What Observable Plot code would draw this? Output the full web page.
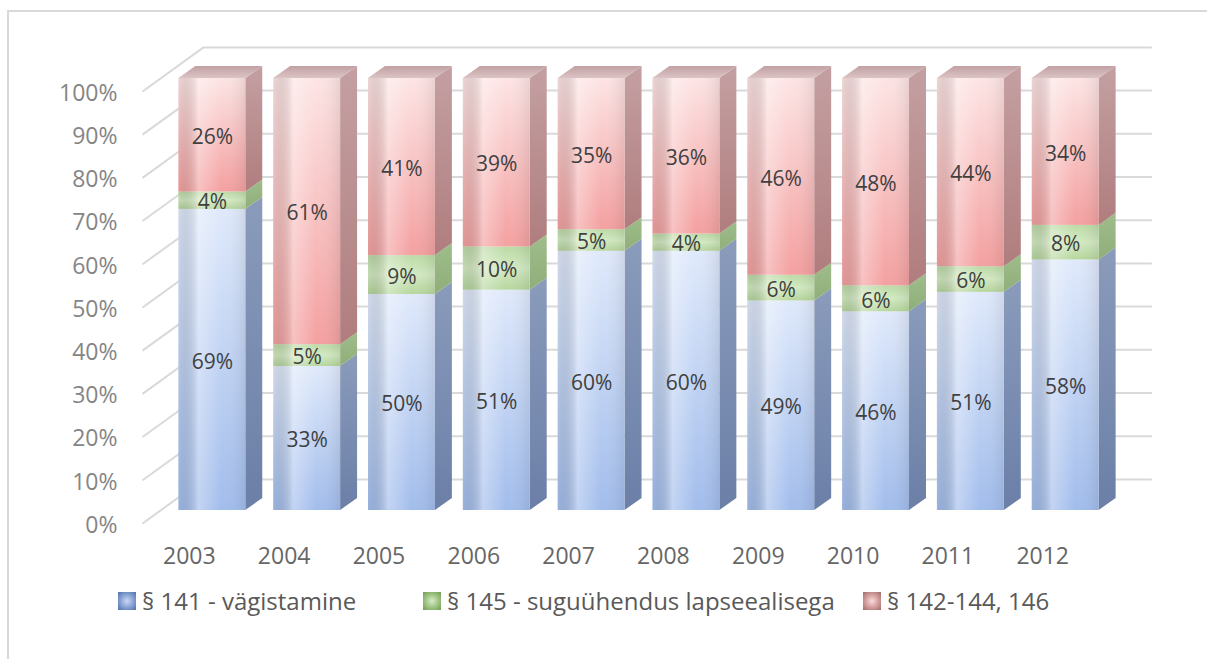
<!DOCTYPE html>
<html>
<head>
<meta charset="utf-8">
<script src="https://cdn.jsdelivr.net/npm/d3@7"></script>
<script src="https://cdn.jsdelivr.net/npm/@observablehq/plot@0.6"></script>
<style>
  html, body { margin: 0; padding: 0; background: #fff; width: 1207px; height: 659px; overflow: hidden; }
  body { font-family: "Open Sans", sans-serif; position: relative; }
  #frame { position: absolute; left: 7px; top: 10px; width: 1400px; height: 800px;
           border-left: 2px solid #d9d9d9; border-top: 2px solid #d9d9d9; }
  #chart { position: absolute; left: 0; top: 0; }
  #legend { position: absolute; left: 118px; top: 584px; display: flex; align-items: center;
            font-size: 24px; color: #595959; white-space: nowrap; }
  .item { display: flex; align-items: center; }
  .sw { width: 18px; height: 18px; margin-right: 6px; box-sizing: border-box; }
</style>
</head>
<body>
<div id="frame"></div>
<div id="chart"></div>
<div id="legend"></div>
<script>
// ---- data ----
const years = [2003, 2004, 2005, 2006, 2007, 2008, 2009, 2010, 2011, 2012];
const seriesNames = ["§ 141 - vägistamine", "§ 145 - suguühendus lapseealisega", "§ 142-144, 146"];
const s141 = [69, 33, 50, 51, 60, 60, 49, 46, 51, 58];
const s145 = [4, 5, 9, 10, 5, 4, 6, 6, 6, 8];
const s142 = [26, 61, 41, 39, 35, 36, 46, 48, 44, 34];
const yTicks = [0, 10, 20, 30, 40, 50, 60, 70, 80, 90, 100];

// ---- styling ----
const seriesValues = [s141, s145, s142];
const frontFill = ["url(#gblue)", "url(#ggreen)", "url(#gred)"];
const sideFill = ["url(#sblue)", "url(#sgreen)", "url(#sred)"];
const swatch = [
  "radial-gradient(circle at 50% 50%,#c9d8f3 0%,#8fa9da 45%,#4f6fa6 100%)",
  "radial-gradient(circle at 50% 50%,#d8ebc8 0%,#a5c98a 45%,#6f9a55 100%)",
  "radial-gradient(circle at 50% 50%,#f6dcdc 0%,#d8a4a4 45%,#a06a6a 100%)"
];
const legendWidths = [305, 440, null];

// 100% stacked table (normalized)
const rows = [];
years.forEach((year, i) => {
  const total = seriesValues.reduce((a, s) => a + s[i], 0);
  let cum = 0;
  seriesValues.forEach((s, k) => {
    const y1 = cum / total * 100;
    cum += s[i];
    const y2 = cum / total * 100;
    rows.push({year, k, series: seriesNames[k], value: s[i], y1, y2});
  });
});

// geometry in data units (bar half width, 3D depth)
const hw = 0.353, depthX = 0.179, depthY = 2.78;
const wallX1 = 2002.907, wallX2 = 2012.915, floorX = 2002.264;
const wallDY = 7.2, floorDY = -3.0;

const sidePts = rows.flatMap(d => [
  {key: d.year + "-" + d.k, k: d.k, x: d.year + hw, lo: d.y1, hi: d.y2},
  {key: d.year + "-" + d.k, k: d.k, x: d.year + hw + depthX, lo: d.y1 + depthY, hi: d.y2 + depthY}
]);
const capPts = years.flatMap(year => [
  {year, y: 100, xa: year - hw, xb: year + hw},
  {year, y: 100 + depthY, xa: year - hw + depthX, xb: year + hw + depthX}
]);

const marks = [
  Plot.ruleY(yTicks, {y: d => d + wallDY, x1: wallX1, x2: wallX2, stroke: "#d9d9d9", strokeWidth: 2}),
  Plot.link(yTicks, {x1: floorX, y1: d => d + floorDY, x2: wallX1, y2: d => d + wallDY, stroke: "#d9d9d9", strokeWidth: 2}),
];
[0, 1, 2].forEach(k => {
  marks.push(Plot.areaY(sidePts.filter(p => p.k === k), {x: "x", y1: "lo", y2: "hi", z: "key", fill: sideFill[k], curve: "linear"}));
});
marks.push(Plot.areaX(capPts, {y: "y", x1: "xa", x2: "xb", z: "year", fill: "url(#gcap)", curve: "linear"}));
[0, 1, 2].forEach(k => {
  marks.push(Plot.rect(rows.filter(d => d.k === k), {x1: d => d.year - hw, x2: d => d.year + hw, y1: "y1", y2: "y2", fill: frontFill[k]}));
});
marks.push(Plot.rect(years, {x1: d => d - hw, x2: d => d + hw, y1: 0, y2: 100, fill: "url(#ghl)"}));
marks.push(Plot.text(rows, {x: "year", y: d => (d.y1 + d.y2) / 2, text: d => d.value + "%", fill: "#404040", fontSize: 21, dy: 2}));
marks.push(Plot.text(yTicks, {x: 2002, y: d => d, text: d => d + "%", textAnchor: "end", dy: 15, fill: "#858585", fontSize: 23}));
marks.push(Plot.text(years, {x: d => d, y: 0, dy: 46, dx: -23, text: d => String(d), fill: "#666666", fontSize: 23}));

const chart = Plot.plot({
  width: 1207,
  height: 580,
  marginLeft: 117,
  marginRight: 47,
  marginTop: 78,
  marginBottom: 70,
  style: {fontFamily: "'Open Sans', sans-serif", background: "transparent", overflow: "visible"},
  x: {domain: [2002, 2013], axis: null},
  y: {domain: [0, 100], axis: null},
  marks
});

d3.select(chart).insert("defs", ":first-child").html(`
  <linearGradient id="gblue" x1="0" y1="0" x2="0" y2="1">
    <stop offset="0" stop-color="#dfe9fb"/><stop offset="1" stop-color="#a2bdec"/></linearGradient>
  <linearGradient id="ggreen" x1="0" y1="0" x2="0" y2="1">
    <stop offset="0" stop-color="#bcdaa6"/><stop offset="0.5" stop-color="#d3eac2"/><stop offset="1" stop-color="#b6d69d"/></linearGradient>
  <linearGradient id="gred" x1="0" y1="0" x2="0" y2="1">
    <stop offset="0" stop-color="#fde4e4"/><stop offset="1" stop-color="#f4a0a0"/></linearGradient>
  <linearGradient id="sblue" x1="0" y1="0" x2="0" y2="1">
    <stop offset="0" stop-color="#8a9bbb"/><stop offset="1" stop-color="#6b7fa7"/></linearGradient>
  <linearGradient id="sgreen" x1="0" y1="0" x2="0" y2="1">
    <stop offset="0" stop-color="#9fbd8a"/><stop offset="1" stop-color="#8fae7a"/></linearGradient>
  <linearGradient id="sred" x1="0" y1="0" x2="0" y2="1">
    <stop offset="0" stop-color="#c4a0a2"/><stop offset="1" stop-color="#b07d7e"/></linearGradient>
  <linearGradient id="gcap" x1="0" y1="1" x2="0" y2="0">
    <stop offset="0" stop-color="#dcc3c4"/><stop offset="1" stop-color="#c1a1a3"/></linearGradient>
  <linearGradient id="ghl" x1="0" y1="0" x2="1" y2="0">
    <stop offset="0" stop-color="#000" stop-opacity="0.06"/>
    <stop offset="0.3" stop-color="#fff" stop-opacity="0.35"/>
    <stop offset="0.65" stop-color="#fff" stop-opacity="0"/>
    <stop offset="1" stop-color="#000" stop-opacity="0.08"/></linearGradient>
`);

document.getElementById("chart").appendChild(chart);

const legend = d3.select("#legend");
seriesNames.forEach((name, k) => {
  const it = legend.append("div").attr("class", "item");
  if (legendWidths[k]) it.style("width", legendWidths[k] + "px");
  it.append("div").attr("class", "sw").style("background", swatch[k]);
  it.append("span").text(name);
});
</script>
</body>
</html>
